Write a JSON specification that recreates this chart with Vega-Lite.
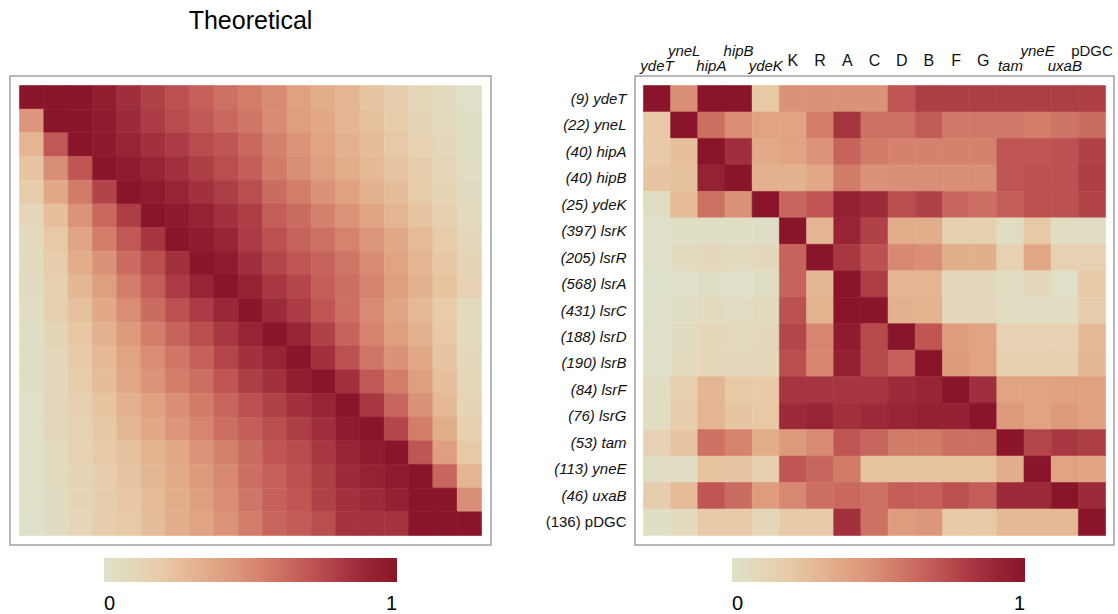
{
"$schema":"https://vega.github.io/schema/vega-lite/v6.json",
"padding":{"left":9,"top":8,"right":2,"bottom":2},
"bounds":"flush",
"spacing":144,
"config":{"view":{"stroke":"#a0a0a0","strokeWidth":1.5},"font":"Liberation Sans","legend":{"gradientStrokeWidth":0,"labelFontSize":20,"labelColor":"#000","labelFont":"Liberation Sans","padding":0}},
"datasets":{
"theo":[
{"r":0,"c":0,"v":1},{"r":0,"c":1,"v":1},{"r":0,"c":2,"v":1},{"r":0,"c":3,"v":0.95},{"r":0,"c":4,"v":0.86},{"r":0,"c":5,"v":0.78},{"r":0,"c":6,"v":0.72},{"r":0,"c":7,"v":0.66},{"r":0,"c":8,"v":0.6},{"r":0,"c":9,"v":0.55},{"r":0,"c":10,"v":0.5},{"r":0,"c":11,"v":0.4},{"r":0,"c":12,"v":0.34},{"r":0,"c":13,"v":0.3},{"r":0,"c":14,"v":0.22},{"r":0,"c":15,"v":0.16},{"r":0,"c":16,"v":0.1},{"r":0,"c":17,"v":0.06},{"r":0,"c":18,"v":0.02},
{"r":1,"c":0,"v":0.45},{"r":1,"c":1,"v":1},{"r":1,"c":2,"v":1},{"r":1,"c":3,"v":0.96},{"r":1,"c":4,"v":0.88},{"r":1,"c":5,"v":0.8},{"r":1,"c":6,"v":0.74},{"r":1,"c":7,"v":0.69},{"r":1,"c":8,"v":0.63},{"r":1,"c":9,"v":0.58},{"r":1,"c":10,"v":0.5},{"r":1,"c":11,"v":0.41},{"r":1,"c":12,"v":0.36},{"r":1,"c":13,"v":0.3},{"r":1,"c":14,"v":0.24},{"r":1,"c":15,"v":0.18},{"r":1,"c":16,"v":0.12},{"r":1,"c":17,"v":0.07},{"r":1,"c":18,"v":0.03},
{"r":2,"c":0,"v":0.3},{"r":2,"c":1,"v":0.69},{"r":2,"c":2,"v":1},{"r":2,"c":3,"v":0.97},{"r":2,"c":4,"v":0.91},{"r":2,"c":5,"v":0.85},{"r":2,"c":6,"v":0.8},{"r":2,"c":7,"v":0.74},{"r":2,"c":8,"v":0.7},{"r":2,"c":9,"v":0.63},{"r":2,"c":10,"v":0.54},{"r":2,"c":11,"v":0.46},{"r":2,"c":12,"v":0.39},{"r":2,"c":13,"v":0.32},{"r":2,"c":14,"v":0.26},{"r":2,"c":15,"v":0.2},{"r":2,"c":16,"v":0.14},{"r":2,"c":17,"v":0.08},{"r":2,"c":18,"v":0.03},
{"r":3,"c":0,"v":0.22},{"r":3,"c":1,"v":0.48},{"r":3,"c":2,"v":0.7},{"r":3,"c":3,"v":1},{"r":3,"c":4,"v":0.96},{"r":3,"c":5,"v":0.9},{"r":3,"c":6,"v":0.85},{"r":3,"c":7,"v":0.79},{"r":3,"c":8,"v":0.73},{"r":3,"c":9,"v":0.67},{"r":3,"c":10,"v":0.56},{"r":3,"c":11,"v":0.48},{"r":3,"c":12,"v":0.41},{"r":3,"c":13,"v":0.34},{"r":3,"c":14,"v":0.28},{"r":3,"c":15,"v":0.22},{"r":3,"c":16,"v":0.16},{"r":3,"c":17,"v":0.1},{"r":3,"c":18,"v":0.04},
{"r":4,"c":0,"v":0.17},{"r":4,"c":1,"v":0.36},{"r":4,"c":2,"v":0.56},{"r":4,"c":3,"v":0.77},{"r":4,"c":4,"v":1},{"r":4,"c":5,"v":0.96},{"r":4,"c":6,"v":0.91},{"r":4,"c":7,"v":0.85},{"r":4,"c":8,"v":0.79},{"r":4,"c":9,"v":0.73},{"r":4,"c":10,"v":0.62},{"r":4,"c":11,"v":0.55},{"r":4,"c":12,"v":0.47},{"r":4,"c":13,"v":0.4},{"r":4,"c":14,"v":0.32},{"r":4,"c":15,"v":0.26},{"r":4,"c":16,"v":0.18},{"r":4,"c":17,"v":0.12},{"r":4,"c":18,"v":0.05},
{"r":5,"c":0,"v":0.1},{"r":5,"c":1,"v":0.25},{"r":5,"c":2,"v":0.46},{"r":5,"c":3,"v":0.63},{"r":5,"c":4,"v":0.79},{"r":5,"c":5,"v":1},{"r":5,"c":6,"v":0.97},{"r":5,"c":7,"v":0.92},{"r":5,"c":8,"v":0.85},{"r":5,"c":9,"v":0.79},{"r":5,"c":10,"v":0.67},{"r":5,"c":11,"v":0.62},{"r":5,"c":12,"v":0.54},{"r":5,"c":13,"v":0.46},{"r":5,"c":14,"v":0.38},{"r":5,"c":15,"v":0.3},{"r":5,"c":16,"v":0.22},{"r":5,"c":17,"v":0.15},{"r":5,"c":18,"v":0.07},
{"r":6,"c":0,"v":0.07},{"r":6,"c":1,"v":0.2},{"r":6,"c":2,"v":0.38},{"r":6,"c":3,"v":0.55},{"r":6,"c":4,"v":0.69},{"r":6,"c":5,"v":0.83},{"r":6,"c":6,"v":1},{"r":6,"c":7,"v":0.96},{"r":6,"c":8,"v":0.91},{"r":6,"c":9,"v":0.8},{"r":6,"c":10,"v":0.72},{"r":6,"c":11,"v":0.65},{"r":6,"c":12,"v":0.6},{"r":6,"c":13,"v":0.53},{"r":6,"c":14,"v":0.45},{"r":6,"c":15,"v":0.36},{"r":6,"c":16,"v":0.27},{"r":6,"c":17,"v":0.18},{"r":6,"c":18,"v":0.09},
{"r":7,"c":0,"v":0.06},{"r":7,"c":1,"v":0.17},{"r":7,"c":2,"v":0.34},{"r":7,"c":3,"v":0.47},{"r":7,"c":4,"v":0.62},{"r":7,"c":5,"v":0.73},{"r":7,"c":6,"v":0.85},{"r":7,"c":7,"v":1},{"r":7,"c":8,"v":0.96},{"r":7,"c":9,"v":0.86},{"r":7,"c":10,"v":0.76},{"r":7,"c":11,"v":0.7},{"r":7,"c":12,"v":0.65},{"r":7,"c":13,"v":0.58},{"r":7,"c":14,"v":0.5},{"r":7,"c":15,"v":0.39},{"r":7,"c":16,"v":0.3},{"r":7,"c":17,"v":0.21},{"r":7,"c":18,"v":0.12},
{"r":8,"c":0,"v":0.05},{"r":8,"c":1,"v":0.15},{"r":8,"c":2,"v":0.29},{"r":8,"c":3,"v":0.41},{"r":8,"c":4,"v":0.55},{"r":8,"c":5,"v":0.67},{"r":8,"c":6,"v":0.8},{"r":8,"c":7,"v":0.91},{"r":8,"c":8,"v":1},{"r":8,"c":9,"v":0.92},{"r":8,"c":10,"v":0.82},{"r":8,"c":11,"v":0.76},{"r":8,"c":12,"v":0.67},{"r":8,"c":13,"v":0.61},{"r":8,"c":14,"v":0.53},{"r":8,"c":15,"v":0.41},{"r":8,"c":16,"v":0.32},{"r":8,"c":17,"v":0.23},{"r":8,"c":18,"v":0.13},
{"r":9,"c":0,"v":0.04},{"r":9,"c":1,"v":0.15},{"r":9,"c":2,"v":0.24},{"r":9,"c":3,"v":0.36},{"r":9,"c":4,"v":0.49},{"r":9,"c":5,"v":0.62},{"r":9,"c":6,"v":0.72},{"r":9,"c":7,"v":0.8},{"r":9,"c":8,"v":0.89},{"r":9,"c":9,"v":1},{"r":9,"c":10,"v":0.88},{"r":9,"c":11,"v":0.8},{"r":9,"c":12,"v":0.7},{"r":9,"c":13,"v":0.61},{"r":9,"c":14,"v":0.5},{"r":9,"c":15,"v":0.38},{"r":9,"c":16,"v":0.28},{"r":9,"c":17,"v":0.18},{"r":9,"c":18,"v":0.07},
{"r":10,"c":0,"v":0.03},{"r":10,"c":1,"v":0.11},{"r":10,"c":2,"v":0.21},{"r":10,"c":3,"v":0.32},{"r":10,"c":4,"v":0.43},{"r":10,"c":5,"v":0.55},{"r":10,"c":6,"v":0.65},{"r":10,"c":7,"v":0.73},{"r":10,"c":8,"v":0.82},{"r":10,"c":9,"v":0.91},{"r":10,"c":10,"v":1},{"r":10,"c":11,"v":0.91},{"r":10,"c":12,"v":0.78},{"r":10,"c":13,"v":0.65},{"r":10,"c":14,"v":0.53},{"r":10,"c":15,"v":0.41},{"r":10,"c":16,"v":0.32},{"r":10,"c":17,"v":0.2},{"r":10,"c":18,"v":0.07},
{"r":11,"c":0,"v":0.03},{"r":11,"c":1,"v":0.09},{"r":11,"c":2,"v":0.19},{"r":11,"c":3,"v":0.28},{"r":11,"c":4,"v":0.39},{"r":11,"c":5,"v":0.49},{"r":11,"c":6,"v":0.58},{"r":11,"c":7,"v":0.66},{"r":11,"c":8,"v":0.76},{"r":11,"c":9,"v":0.85},{"r":11,"c":10,"v":0.91},{"r":11,"c":11,"v":1},{"r":11,"c":12,"v":0.85},{"r":11,"c":13,"v":0.72},{"r":11,"c":14,"v":0.58},{"r":11,"c":15,"v":0.47},{"r":11,"c":16,"v":0.36},{"r":11,"c":17,"v":0.22},{"r":11,"c":18,"v":0.08},
{"r":12,"c":0,"v":0.03},{"r":12,"c":1,"v":0.09},{"r":12,"c":2,"v":0.16},{"r":12,"c":3,"v":0.26},{"r":12,"c":4,"v":0.37},{"r":12,"c":5,"v":0.46},{"r":12,"c":6,"v":0.55},{"r":12,"c":7,"v":0.61},{"r":12,"c":8,"v":0.7},{"r":12,"c":9,"v":0.79},{"r":12,"c":10,"v":0.85},{"r":12,"c":11,"v":0.95},{"r":12,"c":12,"v":1},{"r":12,"c":13,"v":0.85},{"r":12,"c":14,"v":0.69},{"r":12,"c":15,"v":0.55},{"r":12,"c":16,"v":0.41},{"r":12,"c":17,"v":0.25},{"r":12,"c":18,"v":0.1},
{"r":13,"c":0,"v":0.02},{"r":13,"c":1,"v":0.09},{"r":13,"c":2,"v":0.15},{"r":13,"c":3,"v":0.23},{"r":13,"c":4,"v":0.32},{"r":13,"c":5,"v":0.4},{"r":13,"c":6,"v":0.48},{"r":13,"c":7,"v":0.56},{"r":13,"c":8,"v":0.64},{"r":13,"c":9,"v":0.72},{"r":13,"c":10,"v":0.78},{"r":13,"c":11,"v":0.85},{"r":13,"c":12,"v":0.91},{"r":13,"c":13,"v":1},{"r":13,"c":14,"v":0.82},{"r":13,"c":15,"v":0.64},{"r":13,"c":16,"v":0.47},{"r":13,"c":17,"v":0.28},{"r":13,"c":18,"v":0.12},
{"r":14,"c":0,"v":0.02},{"r":14,"c":1,"v":0.08},{"r":14,"c":2,"v":0.14},{"r":14,"c":3,"v":0.21},{"r":14,"c":4,"v":0.29},{"r":14,"c":5,"v":0.36},{"r":14,"c":6,"v":0.45},{"r":14,"c":7,"v":0.52},{"r":14,"c":8,"v":0.61},{"r":14,"c":9,"v":0.67},{"r":14,"c":10,"v":0.73},{"r":14,"c":11,"v":0.79},{"r":14,"c":12,"v":0.86},{"r":14,"c":13,"v":0.96},{"r":14,"c":14,"v":1},{"r":14,"c":15,"v":0.76},{"r":14,"c":16,"v":0.55},{"r":14,"c":17,"v":0.34},{"r":14,"c":18,"v":0.15},
{"r":15,"c":0,"v":0.02},{"r":15,"c":1,"v":0.06},{"r":15,"c":2,"v":0.13},{"r":15,"c":3,"v":0.19},{"r":15,"c":4,"v":0.24},{"r":15,"c":5,"v":0.31},{"r":15,"c":6,"v":0.37},{"r":15,"c":7,"v":0.46},{"r":15,"c":8,"v":0.54},{"r":15,"c":9,"v":0.62},{"r":15,"c":10,"v":0.7},{"r":15,"c":11,"v":0.74},{"r":15,"c":12,"v":0.82},{"r":15,"c":13,"v":0.91},{"r":15,"c":14,"v":0.96},{"r":15,"c":15,"v":1},{"r":15,"c":16,"v":0.7},{"r":15,"c":17,"v":0.41},{"r":15,"c":18,"v":0.2},
{"r":16,"c":0,"v":0.02},{"r":16,"c":1,"v":0.06},{"r":16,"c":2,"v":0.12},{"r":16,"c":3,"v":0.17},{"r":16,"c":4,"v":0.22},{"r":16,"c":5,"v":0.29},{"r":16,"c":6,"v":0.35},{"r":16,"c":7,"v":0.43},{"r":16,"c":8,"v":0.51},{"r":16,"c":9,"v":0.61},{"r":16,"c":10,"v":0.66},{"r":16,"c":11,"v":0.72},{"r":16,"c":12,"v":0.79},{"r":16,"c":13,"v":0.88},{"r":16,"c":14,"v":0.92},{"r":16,"c":15,"v":0.96},{"r":16,"c":16,"v":1},{"r":16,"c":17,"v":0.64},{"r":16,"c":18,"v":0.3},
{"r":17,"c":0,"v":0.02},{"r":17,"c":1,"v":0.05},{"r":17,"c":2,"v":0.11},{"r":17,"c":3,"v":0.16},{"r":17,"c":4,"v":0.21},{"r":17,"c":5,"v":0.27},{"r":17,"c":6,"v":0.34},{"r":17,"c":7,"v":0.41},{"r":17,"c":8,"v":0.49},{"r":17,"c":9,"v":0.58},{"r":17,"c":10,"v":0.66},{"r":17,"c":11,"v":0.7},{"r":17,"c":12,"v":0.78},{"r":17,"c":13,"v":0.85},{"r":17,"c":14,"v":0.88},{"r":17,"c":15,"v":0.93},{"r":17,"c":16,"v":1},{"r":17,"c":17,"v":1},{"r":17,"c":18,"v":0.48},
{"r":18,"c":0,"v":0.01},{"r":18,"c":1,"v":0.05},{"r":18,"c":2,"v":0.1},{"r":18,"c":3,"v":0.16},{"r":18,"c":4,"v":0.2},{"r":18,"c":5,"v":0.26},{"r":18,"c":6,"v":0.33},{"r":18,"c":7,"v":0.39},{"r":18,"c":8,"v":0.46},{"r":18,"c":9,"v":0.55},{"r":18,"c":10,"v":0.64},{"r":18,"c":11,"v":0.68},{"r":18,"c":12,"v":0.73},{"r":18,"c":13,"v":0.84},{"r":18,"c":14,"v":0.84},{"r":18,"c":15,"v":0.84},{"r":18,"c":16,"v":1},{"r":18,"c":17,"v":1},{"r":18,"c":18,"v":1}
],
"obs":[
{"g":"(9) ydeT","c":"ydeT","v":1},{"g":"(9) ydeT","c":"yneL","v":0.48},{"g":"(9) ydeT","c":"hipA","v":1},{"g":"(9) ydeT","c":"hipB","v":1},{"g":"(9) ydeT","c":"ydeK","v":0.2},{"g":"(9) ydeT","c":"K","v":0.47},{"g":"(9) ydeT","c":"R","v":0.47},{"g":"(9) ydeT","c":"A","v":0.47},{"g":"(9) ydeT","c":"C","v":0.47},{"g":"(9) ydeT","c":"D","v":0.7},{"g":"(9) ydeT","c":"B","v":0.79},{"g":"(9) ydeT","c":"F","v":0.79},{"g":"(9) ydeT","c":"G","v":0.79},{"g":"(9) ydeT","c":"tam","v":0.79},{"g":"(9) ydeT","c":"yneE","v":0.79},{"g":"(9) ydeT","c":"uxaB","v":0.79},{"g":"(9) ydeT","c":"pDGC","v":0.79},
{"g":"(22) yneL","c":"ydeT","v":0.19},{"g":"(22) yneL","c":"yneL","v":1},{"g":"(22) yneL","c":"hipA","v":0.61},{"g":"(22) yneL","c":"hipB","v":0.49},{"g":"(22) yneL","c":"ydeK","v":0.39},{"g":"(22) yneL","c":"K","v":0.39},{"g":"(22) yneL","c":"R","v":0.55},{"g":"(22) yneL","c":"A","v":0.83},{"g":"(22) yneL","c":"C","v":0.6},{"g":"(22) yneL","c":"D","v":0.6},{"g":"(22) yneL","c":"B","v":0.68},{"g":"(22) yneL","c":"F","v":0.57},{"g":"(22) yneL","c":"G","v":0.57},{"g":"(22) yneL","c":"tam","v":0.57},{"g":"(22) yneL","c":"yneE","v":0.55},{"g":"(22) yneL","c":"uxaB","v":0.59},{"g":"(22) yneL","c":"pDGC","v":0.62},
{"g":"(40) hipA","c":"ydeT","v":0.19},{"g":"(40) hipA","c":"yneL","v":0.25},{"g":"(40) hipA","c":"hipA","v":1},{"g":"(40) hipA","c":"hipB","v":0.86},{"g":"(40) hipA","c":"ydeK","v":0.35},{"g":"(40) hipA","c":"K","v":0.39},{"g":"(40) hipA","c":"R","v":0.46},{"g":"(40) hipA","c":"A","v":0.65},{"g":"(40) hipA","c":"C","v":0.56},{"g":"(40) hipA","c":"D","v":0.54},{"g":"(40) hipA","c":"B","v":0.54},{"g":"(40) hipA","c":"F","v":0.54},{"g":"(40) hipA","c":"G","v":0.54},{"g":"(40) hipA","c":"tam","v":0.7},{"g":"(40) hipA","c":"yneE","v":0.7},{"g":"(40) hipA","c":"uxaB","v":0.72},{"g":"(40) hipA","c":"pDGC","v":0.78},
{"g":"(40) hipB","c":"ydeT","v":0.22},{"g":"(40) hipB","c":"yneL","v":0.24},{"g":"(40) hipB","c":"hipA","v":0.92},{"g":"(40) hipB","c":"hipB","v":1},{"g":"(40) hipB","c":"ydeK","v":0.32},{"g":"(40) hipB","c":"K","v":0.32},{"g":"(40) hipB","c":"R","v":0.37},{"g":"(40) hipB","c":"A","v":0.56},{"g":"(40) hipB","c":"C","v":0.47},{"g":"(40) hipB","c":"D","v":0.48},{"g":"(40) hipB","c":"B","v":0.48},{"g":"(40) hipB","c":"F","v":0.48},{"g":"(40) hipB","c":"G","v":0.48},{"g":"(40) hipB","c":"tam","v":0.7},{"g":"(40) hipB","c":"yneE","v":0.72},{"g":"(40) hipB","c":"uxaB","v":0.72},{"g":"(40) hipB","c":"pDGC","v":0.79},
{"g":"(25) ydeK","c":"ydeT","v":0.04},{"g":"(25) ydeK","c":"yneL","v":0.27},{"g":"(25) ydeK","c":"hipA","v":0.6},{"g":"(25) ydeK","c":"hipB","v":0.47},{"g":"(25) ydeK","c":"ydeK","v":1},{"g":"(25) ydeK","c":"K","v":0.64},{"g":"(25) ydeK","c":"R","v":0.7},{"g":"(25) ydeK","c":"A","v":0.93},{"g":"(25) ydeK","c":"C","v":0.88},{"g":"(25) ydeK","c":"D","v":0.73},{"g":"(25) ydeK","c":"B","v":0.78},{"g":"(25) ydeK","c":"F","v":0.64},{"g":"(25) ydeK","c":"G","v":0.61},{"g":"(25) ydeK","c":"tam","v":0.67},{"g":"(25) ydeK","c":"yneE","v":0.72},{"g":"(25) ydeK","c":"uxaB","v":0.72},{"g":"(25) ydeK","c":"pDGC","v":0.77},
{"g":"(397) lsrK","c":"ydeT","v":0.02},{"g":"(397) lsrK","c":"yneL","v":0.03},{"g":"(397) lsrK","c":"hipA","v":0.03},{"g":"(397) lsrK","c":"hipB","v":0.03},{"g":"(397) lsrK","c":"ydeK","v":0.03},{"g":"(397) lsrK","c":"K","v":1},{"g":"(397) lsrK","c":"R","v":0.3},{"g":"(397) lsrK","c":"A","v":0.91},{"g":"(397) lsrK","c":"C","v":0.78},{"g":"(397) lsrK","c":"D","v":0.34},{"g":"(397) lsrK","c":"B","v":0.34},{"g":"(397) lsrK","c":"F","v":0.15},{"g":"(397) lsrK","c":"G","v":0.15},{"g":"(397) lsrK","c":"tam","v":0.04},{"g":"(397) lsrK","c":"yneE","v":0.2},{"g":"(397) lsrK","c":"uxaB","v":0.04},{"g":"(397) lsrK","c":"pDGC","v":0.04},
{"g":"(205) lsrR","c":"ydeT","v":0.02},{"g":"(205) lsrR","c":"yneL","v":0.06},{"g":"(205) lsrR","c":"hipA","v":0.09},{"g":"(205) lsrR","c":"hipB","v":0.06},{"g":"(205) lsrR","c":"ydeK","v":0.08},{"g":"(205) lsrR","c":"K","v":0.65},{"g":"(205) lsrR","c":"R","v":1},{"g":"(205) lsrR","c":"A","v":0.82},{"g":"(205) lsrR","c":"C","v":0.72},{"g":"(205) lsrR","c":"D","v":0.51},{"g":"(205) lsrR","c":"B","v":0.48},{"g":"(205) lsrR","c":"F","v":0.33},{"g":"(205) lsrR","c":"G","v":0.33},{"g":"(205) lsrR","c":"tam","v":0.13},{"g":"(205) lsrR","c":"yneE","v":0.37},{"g":"(205) lsrR","c":"uxaB","v":0.13},{"g":"(205) lsrR","c":"pDGC","v":0.13},
{"g":"(568) lsrA","c":"ydeT","v":0.01},{"g":"(568) lsrA","c":"yneL","v":0.02},{"g":"(568) lsrA","c":"hipA","v":0.03},{"g":"(568) lsrA","c":"hipB","v":0.02},{"g":"(568) lsrA","c":"ydeK","v":0.03},{"g":"(568) lsrA","c":"K","v":0.65},{"g":"(568) lsrA","c":"R","v":0.29},{"g":"(568) lsrA","c":"A","v":1},{"g":"(568) lsrA","c":"C","v":0.79},{"g":"(568) lsrA","c":"D","v":0.3},{"g":"(568) lsrA","c":"B","v":0.3},{"g":"(568) lsrA","c":"F","v":0.08},{"g":"(568) lsrA","c":"G","v":0.08},{"g":"(568) lsrA","c":"tam","v":0.04},{"g":"(568) lsrA","c":"yneE","v":0.08},{"g":"(568) lsrA","c":"uxaB","v":0.02},{"g":"(568) lsrA","c":"pDGC","v":0.19},
{"g":"(431) lsrC","c":"ydeT","v":0.01},{"g":"(431) lsrC","c":"yneL","v":0.03},{"g":"(431) lsrC","c":"hipA","v":0.06},{"g":"(431) lsrC","c":"hipB","v":0.04},{"g":"(431) lsrC","c":"ydeK","v":0.06},{"g":"(431) lsrC","c":"K","v":0.72},{"g":"(431) lsrC","c":"R","v":0.31},{"g":"(431) lsrC","c":"A","v":1},{"g":"(431) lsrC","c":"C","v":1},{"g":"(431) lsrC","c":"D","v":0.32},{"g":"(431) lsrC","c":"B","v":0.31},{"g":"(431) lsrC","c":"F","v":0.09},{"g":"(431) lsrC","c":"G","v":0.09},{"g":"(431) lsrC","c":"tam","v":0.04},{"g":"(431) lsrC","c":"yneE","v":0.04},{"g":"(431) lsrC","c":"uxaB","v":0.04},{"g":"(431) lsrC","c":"pDGC","v":0.16},
{"g":"(188) lsrD","c":"ydeT","v":0.02},{"g":"(188) lsrD","c":"yneL","v":0.05},{"g":"(188) lsrD","c":"hipA","v":0.1},{"g":"(188) lsrD","c":"hipB","v":0.07},{"g":"(188) lsrD","c":"ydeK","v":0.08},{"g":"(188) lsrD","c":"K","v":0.76},{"g":"(188) lsrD","c":"R","v":0.52},{"g":"(188) lsrD","c":"A","v":0.96},{"g":"(188) lsrD","c":"C","v":0.75},{"g":"(188) lsrD","c":"D","v":1},{"g":"(188) lsrD","c":"B","v":0.7},{"g":"(188) lsrD","c":"F","v":0.42},{"g":"(188) lsrD","c":"G","v":0.39},{"g":"(188) lsrD","c":"tam","v":0.13},{"g":"(188) lsrD","c":"yneE","v":0.13},{"g":"(188) lsrD","c":"uxaB","v":0.13},{"g":"(188) lsrD","c":"pDGC","v":0.28},
{"g":"(190) lsrB","c":"ydeT","v":0.02},{"g":"(190) lsrB","c":"yneL","v":0.06},{"g":"(190) lsrB","c":"hipA","v":0.1},{"g":"(190) lsrB","c":"hipB","v":0.08},{"g":"(190) lsrB","c":"ydeK","v":0.09},{"g":"(190) lsrB","c":"K","v":0.73},{"g":"(190) lsrB","c":"R","v":0.52},{"g":"(190) lsrB","c":"A","v":0.93},{"g":"(190) lsrB","c":"C","v":0.75},{"g":"(190) lsrB","c":"D","v":0.66},{"g":"(190) lsrB","c":"B","v":1},{"g":"(190) lsrB","c":"F","v":0.43},{"g":"(190) lsrB","c":"G","v":0.39},{"g":"(190) lsrB","c":"tam","v":0.15},{"g":"(190) lsrB","c":"yneE","v":0.15},{"g":"(190) lsrB","c":"uxaB","v":0.15},{"g":"(190) lsrB","c":"pDGC","v":0.29},
{"g":"(84) lsrF","c":"ydeT","v":0.04},{"g":"(84) lsrF","c":"yneL","v":0.15},{"g":"(84) lsrF","c":"hipA","v":0.3},{"g":"(84) lsrF","c":"hipB","v":0.2},{"g":"(84) lsrF","c":"ydeK","v":0.19},{"g":"(84) lsrF","c":"K","v":0.83},{"g":"(84) lsrF","c":"R","v":0.83},{"g":"(84) lsrF","c":"A","v":0.83},{"g":"(84) lsrF","c":"C","v":0.83},{"g":"(84) lsrF","c":"D","v":0.88},{"g":"(84) lsrF","c":"B","v":0.9},{"g":"(84) lsrF","c":"F","v":1},{"g":"(84) lsrF","c":"G","v":0.86},{"g":"(84) lsrF","c":"tam","v":0.39},{"g":"(84) lsrF","c":"yneE","v":0.39},{"g":"(84) lsrF","c":"uxaB","v":0.4},{"g":"(84) lsrF","c":"pDGC","v":0.4},
{"g":"(76) lsrG","c":"ydeT","v":0.04},{"g":"(76) lsrG","c":"yneL","v":0.16},{"g":"(76) lsrG","c":"hipA","v":0.3},{"g":"(76) lsrG","c":"hipB","v":0.22},{"g":"(76) lsrG","c":"ydeK","v":0.2},{"g":"(76) lsrG","c":"K","v":0.88},{"g":"(76) lsrG","c":"R","v":0.91},{"g":"(76) lsrG","c":"A","v":0.85},{"g":"(76) lsrG","c":"C","v":0.88},{"g":"(76) lsrG","c":"D","v":0.91},{"g":"(76) lsrG","c":"B","v":0.93},{"g":"(76) lsrG","c":"F","v":0.93},{"g":"(76) lsrG","c":"G","v":1},{"g":"(76) lsrG","c":"tam","v":0.43},{"g":"(76) lsrG","c":"yneE","v":0.39},{"g":"(76) lsrG","c":"uxaB","v":0.43},{"g":"(76) lsrG","c":"pDGC","v":0.4},
{"g":"(53) tam","c":"ydeT","v":0.13},{"g":"(53) tam","c":"yneL","v":0.22},{"g":"(53) tam","c":"hipA","v":0.6},{"g":"(53) tam","c":"hipB","v":0.53},{"g":"(53) tam","c":"ydeK","v":0.34},{"g":"(53) tam","c":"K","v":0.43},{"g":"(53) tam","c":"R","v":0.5},{"g":"(53) tam","c":"A","v":0.7},{"g":"(53) tam","c":"C","v":0.64},{"g":"(53) tam","c":"D","v":0.56},{"g":"(53) tam","c":"B","v":0.56},{"g":"(53) tam","c":"F","v":0.61},{"g":"(53) tam","c":"G","v":0.61},{"g":"(53) tam","c":"tam","v":1},{"g":"(53) tam","c":"yneE","v":0.76},{"g":"(53) tam","c":"uxaB","v":0.82},{"g":"(53) tam","c":"pDGC","v":0.79},
{"g":"(113) yneE","c":"ydeT","v":0.04},{"g":"(113) yneE","c":"yneL","v":0.04},{"g":"(113) yneE","c":"hipA","v":0.23},{"g":"(113) yneE","c":"hipB","v":0.22},{"g":"(113) yneE","c":"ydeK","v":0.15},{"g":"(113) yneE","c":"K","v":0.7},{"g":"(113) yneE","c":"R","v":0.64},{"g":"(113) yneE","c":"A","v":0.56},{"g":"(113) yneE","c":"C","v":0.23},{"g":"(113) yneE","c":"D","v":0.23},{"g":"(113) yneE","c":"B","v":0.23},{"g":"(113) yneE","c":"F","v":0.23},{"g":"(113) yneE","c":"G","v":0.23},{"g":"(113) yneE","c":"tam","v":0.34},{"g":"(113) yneE","c":"yneE","v":1},{"g":"(113) yneE","c":"uxaB","v":0.39},{"g":"(113) yneE","c":"pDGC","v":0.39},
{"g":"(46) uxaB","c":"ydeT","v":0.16},{"g":"(46) uxaB","c":"yneL","v":0.27},{"g":"(46) uxaB","c":"hipA","v":0.7},{"g":"(46) uxaB","c":"hipB","v":0.62},{"g":"(46) uxaB","c":"ydeK","v":0.42},{"g":"(46) uxaB","c":"K","v":0.51},{"g":"(46) uxaB","c":"R","v":0.61},{"g":"(46) uxaB","c":"A","v":0.63},{"g":"(46) uxaB","c":"C","v":0.6},{"g":"(46) uxaB","c":"D","v":0.67},{"g":"(46) uxaB","c":"B","v":0.66},{"g":"(46) uxaB","c":"F","v":0.72},{"g":"(46) uxaB","c":"G","v":0.67},{"g":"(46) uxaB","c":"tam","v":0.88},{"g":"(46) uxaB","c":"yneE","v":0.88},{"g":"(46) uxaB","c":"uxaB","v":1},{"g":"(46) uxaB","c":"pDGC","v":0.88},
{"g":"(136) pDGC","c":"ydeT","v":0.03},{"g":"(136) pDGC","c":"yneL","v":0.06},{"g":"(136) pDGC","c":"hipA","v":0.19},{"g":"(136) pDGC","c":"hipB","v":0.19},{"g":"(136) pDGC","c":"ydeK","v":0.1},{"g":"(136) pDGC","c":"K","v":0.19},{"g":"(136) pDGC","c":"R","v":0.19},{"g":"(136) pDGC","c":"A","v":0.85},{"g":"(136) pDGC","c":"C","v":0.6},{"g":"(136) pDGC","c":"D","v":0.42},{"g":"(136) pDGC","c":"B","v":0.45},{"g":"(136) pDGC","c":"F","v":0.2},{"g":"(136) pDGC","c":"G","v":0.2},{"g":"(136) pDGC","c":"tam","v":0.28},{"g":"(136) pDGC","c":"yneE","v":0.28},{"g":"(136) pDGC","c":"uxaB","v":0.28},{"g":"(136) pDGC","c":"pDGC","v":1}
]
},
"hconcat":[
{
"title":{"text":"Theoretical","fontSize":25,"fontWeight":"normal","font":"Liberation Sans","color":"#000","anchor":"middle","baseline":"alphabetic","offset":22},
"width":481,"height":469,
"data":{"name":"theo"},
"mark":{"type":"rect","strokeWidth":0.6},
"encoding":{
"x":{"field":"c","type":"ordinal","axis":null,"scale":{"paddingInner":0,"paddingOuter":0.39}},
"y":{"field":"r","type":"ordinal","axis":null,"scale":{"paddingInner":0,"paddingOuter":0.4}},
"color":{"field":"v","type":"quantitative","scale":{"domain":[0,0.1,0.2,0.3,0.4,0.5,0.6,0.7,0.8,0.9,1],"range":["#dfe1cb","#e5d6b9","#e8c9a6","#e4b592","#dfa182","#d88b74","#cd7163","#bf5654","#ac3b45","#982536","#8a1429"]},
"legend":{"orient":"none","legendX":94,"legendY":482,"direction":"horizontal","gradientLength":293,"gradientThickness":24,"title":null,"values":[0,1],"format":".0f","labelOffset":12}},
"stroke":{"field":"v","type":"quantitative","legend":null,"scale":{"domain":[0,0.1,0.2,0.3,0.4,0.5,0.6,0.7,0.8,0.9,1],"range":["#dfe1cb","#e5d6b9","#e8c9a6","#e4b592","#dfa182","#d88b74","#cd7163","#bf5654","#ac3b45","#982536","#8a1429"]}}
}
},
{
"width":479,"height":469,
"data":{"name":"obs"},
"layer":[
{
"mark":{"type":"rect","strokeWidth":0.6},
"encoding":{
"x":{"field":"c","type":"nominal","sort":null,"scale":{"paddingInner":0,"paddingOuter":0.31},
"axis":{"orient":"top","title":null,"domain":false,"ticks":false,"tickSize":0,"labelAngle":0,"labelPadding":11,"labelColor":"#111","labelFont":"Liberation Sans","labelOverlap":false,
"labelExpr":"indexof(['yneL','hipB','yneE','pDGC'], datum.value) >= 0 ? '' : datum.label",
"labelFontSize":{"condition":{"test":"indexof(['K','R','A','C','D','B','F','G'], datum.value) >= 0","value":16},"value":15},
"labelFontStyle":{"condition":{"test":"indexof(['K','R','A','C','D','B','F','G','pDGC'], datum.value) >= 0","value":"normal"},"value":"italic"},
"labelBaseline":{"condition":{"test":"indexof(['K','R','A','C','D','B','F','G'], datum.value) >= 0","value":"alphabetic"},"value":"middle"}}},
"y":{"field":"g","type":"nominal","sort":null,"scale":{"paddingInner":0,"paddingOuter":0.36},
"axis":{"title":null,"domain":false,"ticks":false,"tickSize":0,"labelPadding":9,"labelFontSize":15,"labelColor":"#111","labelFont":"Liberation Sans","labelOverlap":false,
"labelFontStyle":{"condition":{"test":"datum.value === '(136) pDGC'","value":"normal"},"value":"italic"}}},
"color":{"field":"v","type":"quantitative","scale":{"domain":[0,0.1,0.2,0.3,0.4,0.5,0.6,0.7,0.8,0.9,1],"range":["#dfe1cb","#e5d6b9","#e8c9a6","#e4b592","#dfa182","#d88b74","#cd7163","#bf5654","#ac3b45","#982536","#8a1429"]},
"legend":{"orient":"none","legendX":97,"legendY":482,"direction":"horizontal","gradientLength":293,"gradientThickness":24,"title":null,"values":[0,1],"format":".0f","labelOffset":12}},
"stroke":{"field":"v","type":"quantitative","legend":null,"scale":{"domain":[0,0.1,0.2,0.3,0.4,0.5,0.6,0.7,0.8,0.9,1],"range":["#dfe1cb","#e5d6b9","#e8c9a6","#e4b592","#dfa182","#d88b74","#cd7163","#bf5654","#ac3b45","#982536","#8a1429"]}}
}
},
{
"mark":{"type":"rect","opacity":0},
"encoding":{
"x":{"field":"c","type":"nominal","sort":null,"scale":{"paddingInner":0,"paddingOuter":0.31},
"axis":{"orient":"top","title":null,"domain":false,"ticks":false,"tickSize":0,"labelAngle":0,"labelPadding":21,"labelBaseline":"alphabetic","labelFontSize":15,"labelColor":"#111","labelFont":"Liberation Sans","labelOverlap":false,
"labelExpr":"indexof(['yneL','hipB','yneE','pDGC'], datum.value) >= 0 ? datum.label : ''",
"labelFontStyle":{"condition":{"test":"datum.value === 'pDGC'","value":"normal"},"value":"italic"}}},
"y":{"field":"g","type":"nominal","sort":null,"scale":{"paddingInner":0,"paddingOuter":0.36},
"axis":{"title":null,"domain":false,"ticks":false,"tickSize":0,"labelPadding":9,"labelFontSize":15,"labelColor":"#111","labelFont":"Liberation Sans","labelOverlap":false,
"labelFontStyle":{"condition":{"test":"datum.value === '(136) pDGC'","value":"normal"},"value":"italic"}}}
}
}
],
"resolve":{"axis":{"x":"independent"}}
}
],
"resolve":{"scale":{"color":"independent"}}
}
